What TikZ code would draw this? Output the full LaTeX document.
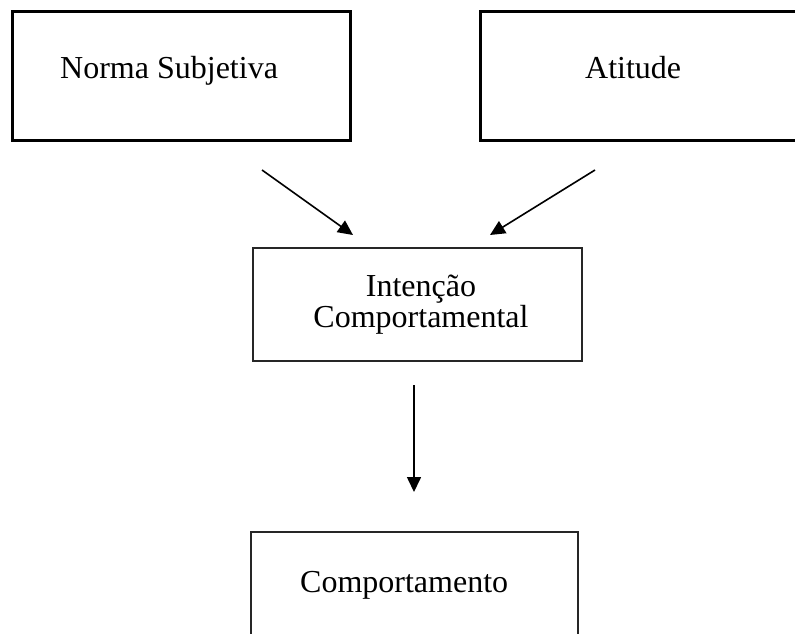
\documentclass[tikz,border=0pt]{standalone}
\usepackage{fontspec}
\setmainfont{Liberation Serif}
\usetikzlibrary{arrows.meta}
\begin{document}
\begin{tikzpicture}[x=1pt,y=-1pt,
  thickbox/.style={draw=black,line width=3pt,inner sep=0pt},
  thinbox/.style={draw=black!85,line width=2pt,inner sep=0pt},
  lbl/.style={inner sep=0pt,anchor=base west,font=\fontsize{32}{28}\selectfont},
  conn/.style={line width=1.6pt,-{Triangle[length=15pt,width=14pt]}}]
\useasboundingbox (0,0) rectangle (795,633);
% boxes
\node[thickbox,minimum width=338pt,minimum height=129pt] (ns) at (181,75.5) {};
\node[thickbox,minimum width=340pt,minimum height=129pt] (at) at (650,75.5) {};
\node[thinbox,minimum width=329pt,minimum height=113pt] (ic) at (417.5,304.5) {};
\node[thinbox,minimum width=327pt,minimum height=120pt] (co) at (414.5,592) {};
% texts
\node[lbl] (nst) at (60,78) {Norma Subjetiva};
\node[lbl] (att) at (585,78) {Atitude};
\node[inner sep=0pt,align=center,font=\fontsize{32}{28}\selectfont,anchor=base] (ict) at (421,327) {Intenção\\Comportamental};
\node[lbl] (cot) at (300,592) {Comportamento};
% connectors
\coordinate (a1s) at (262,170);
\coordinate (a1e) at (353,235);
\coordinate (a2s) at (595,170);
\coordinate (a2e) at (490,235);
\coordinate (a3s) at (414,385);
\coordinate (a3e) at (414,492);
\draw[conn] (a1s) -- (a1e);
\draw[conn] (a2s) -- (a2e);
\draw[conn] (a3s) -- (a3e);
\end{tikzpicture}
\end{document}
